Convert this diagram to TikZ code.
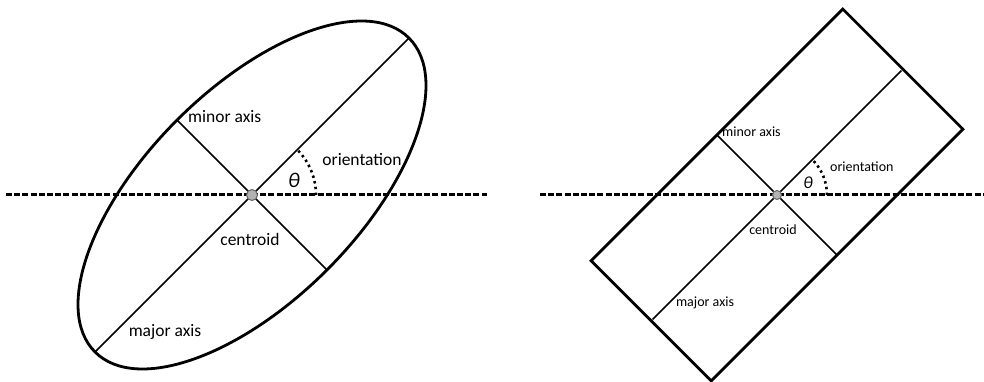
\documentclass[tikz,border=0pt]{standalone}
\usepackage{fontspec}
\setmainfont{Carlito}
\usetikzlibrary{calc}
\tikzset{
  outline/.style={line width=2.8pt},
  axisline/.style={line width=1.6pt},
  horizon/.style={line width=3pt, dash pattern=on 6pt off 2.2pt},
  anglearc/.style={line width=2.6pt, dash pattern=on 2.4pt off 3.4pt},
  cdot/.style={circle, fill=gray!60, draw=gray!80!black, line width=1pt, inner sep=0pt, minimum size=11pt},
  biglbl/.style={font=\fontsize{17.5}{20}\selectfont, inner sep=0pt},
  smalllbl/.style={font=\fontsize{14}{16}\selectfont, inner sep=0pt},
}
\begin{document}
\begin{tikzpicture}[x=1pt,y=1pt]
\useasboundingbox (0,0) rectangle (984,381);
% ---------- left: ellipse ----------
\coordinate (L) at (252,186);
\coordinate (Lh1) at (6,187);
\coordinate (Lh2) at (487,187);
\draw[horizon] (Lh1) -- (Lh2);
\draw[outline, rotate around={45:(L)}] (L) ellipse [x radius=222pt, y radius=106pt];
\coordinate (Lmaj1) at ([shift={(45:222pt)}]L);
\coordinate (Lmaj2) at ([shift={(225:222pt)}]L);
\coordinate (Lmin1) at ([shift={(135:106pt)}]L);
\coordinate (Lmin2) at ([shift={(315:106pt)}]L);
\draw[axisline] (Lmaj1) -- (Lmaj2);
\draw[axisline] (Lmin1) -- (Lmin2);
\coordinate (La) at ([shift={(0:64pt)}]L);
\draw[anglearc] (La) arc[start angle=0, end angle=45, radius=64pt];
\node[cdot] (Lc) at (L) {};
\node[biglbl, anchor=west] (Lminl) at (188,264) {minor axis};
\node[biglbl] (Lori) at (362,221) {orientation};
\node[biglbl] (Lth) at (294,201) {\fontsize{21}{22}\selectfont\itshape θ};
\node[biglbl] (Lcen) at (250,142) {centroid};
\node[biglbl] (Lmajl) at (165,49) {major axis};
% ---------- right: rectangle ----------
\coordinate (R) at (777,186);
\coordinate (Rh1) at (540,187);
\coordinate (Rh2) at (984,187);
\draw[horizon] (Rh1) -- (Rh2);
\draw[outline, rotate around={45:(R)}] ($(R)+(-178,-85)$) rectangle ($(R)+(178,85)$);
\coordinate (Rmaj1) at ([shift={(45:176pt)}]R);
\coordinate (Rmaj2) at ([shift={(225:176pt)}]R);
\coordinate (Rmin1) at ([shift={(135:85pt)}]R);
\coordinate (Rmin2) at ([shift={(315:85pt)}]R);
\draw[axisline] (Rmaj1) -- (Rmaj2);
\draw[axisline] (Rmin1) -- (Rmin2);
\coordinate (Ra) at ([shift={(0:50pt)}]R);
\draw[anglearc] (Ra) arc[start angle=0, end angle=45, radius=50pt];
\node[cdot, minimum size=9pt] (Rc) at (R) {};
\node[smalllbl, anchor=west] (Rminl) at (722,249) {minor axis};
\node[smalllbl, anchor=west] (Rori) at (830,214) {orientation};
\node[smalllbl] (Rth) at (808,198) {\fontsize{17}{18}\selectfont\itshape θ};
\node[smalllbl] (Rcen) at (773,151) {centroid};
\node[smalllbl] (Rmajl) at (705,78) {major axis};
\end{tikzpicture}
\end{document}
